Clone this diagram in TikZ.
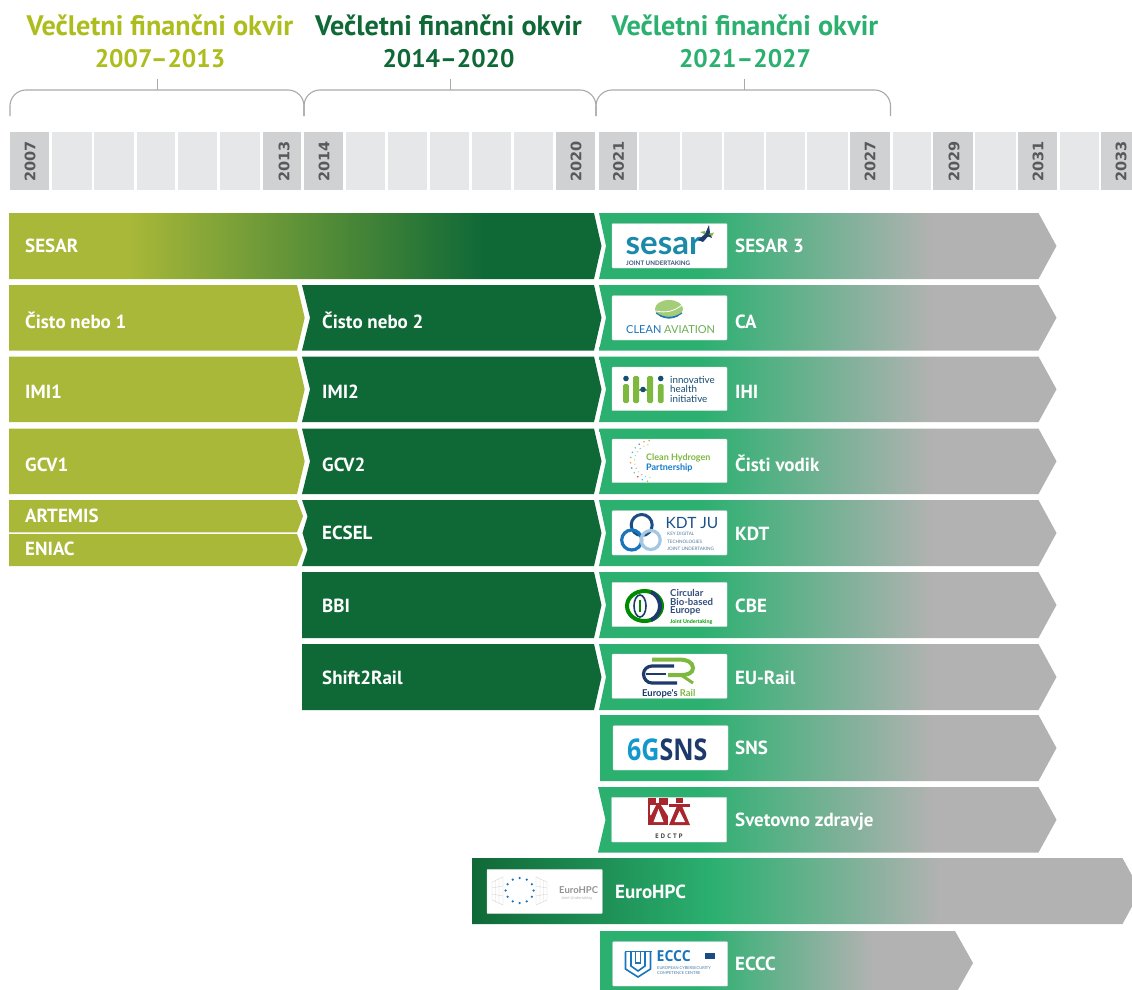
\documentclass[tikz,border=0pt]{standalone}
\usepackage{fontspec}
\setmainfont{PT Sans}
\newfontfamily\yearfont{DejaVu Sans}
\newfontfamily\logofont{Lato}
\newfontfamily\openfont{Open Sans}
\definecolor{olivebar}{HTML}{A9B838}
\definecolor{olivetxt}{HTML}{AEBD1E}
\definecolor{darkbar}{HTML}{0F6937}
\definecolor{midbar}{HTML}{2BB070}
\definecolor{graybar}{HTML}{B2B2B2}
\definecolor{celllight}{HTML}{E6E7E8}
\definecolor{celldark}{HTML}{D0D1D3}
\definecolor{yeartxt}{HTML}{58595B}
\definecolor{bracegray}{HTML}{A8A9AB}
\definecolor{lblue}{HTML}{1B75BB}
\definecolor{lnavy}{HTML}{1D3A6B}
\definecolor{lgreen}{HTML}{7DB83F}
\definecolor{lred}{HTML}{A8262D}
\definecolor{lteal}{HTML}{1A8AA8}
\pgfdeclarehorizontalshading{sesarshade}{100bp}{color(0bp)=(olivebar); color(35bp)=(olivebar); color(65bp)=(darkbar); color(100bp)=(darkbar)}
\pgfdeclarehorizontalshading{rowshade}{100bp}{color(0bp)=(midbar); color(36bp)=(midbar); color(61.5bp)=(graybar); color(100bp)=(graybar)}
\pgfdeclarehorizontalshading{eccshade}{100bp}{color(0bp)=(midbar); color(38.4bp)=(midbar); color(61.6bp)=(graybar); color(100bp)=(graybar)}
\pgfdeclarehorizontalshading{hpcshade}{100bp}{color(0bp)=(darkbar); color(25bp)=(darkbar); color(43bp)=(midbar); color(60bp)=(graybar); color(100bp)=(graybar)}
\tikzset{
  rowlabel/.style={anchor=base west,inner sep=0pt,yshift=-0.7pt,text=white,font=\bfseries\fontsize{19}{19}\selectfont},
  titlelabel/.style={anchor=base,inner sep=0pt,font=\bfseries\fontsize{28.2}{28}\selectfont},
  titleyears/.style={anchor=base,inner sep=0pt,font=\bfseries\fontsize{25.4}{26}\selectfont},
  yearlabel/.style={rotate=90,anchor=west,inner sep=0pt,text=yeartxt,font=\yearfont\bfseries\fontsize{14.5}{14.5}\selectfont},
  bracket/.style={draw=bracegray,line width=1.1pt},
  logobox/.style={fill=white,draw=white!85!black,line width=0.3pt,rounded corners=0.8pt},
  oliveshape/.style={fill=olivebar},
  darkshape/.style={fill=darkbar},
  rowshape/.style={shading=rowshade,shading angle=0},
  lg/.style={anchor=base west,inner sep=0pt},
}
% style, top, bottom, left x, notch depth, corner x, tip x
\newcommand{\chev}[7]{\path[#1] (#4,#2) -- (#6,#2) -- (#7,{(#2+#3)/2}) -- (#6,#3) -- (#4,#3) -- ({#4+#5},{(#2+#3)/2}) -- cycle;}
\newcommand{\logosize}[1]{\fontsize{#1}{#1}\selectfont}
\begin{document}
\begin{tikzpicture}[x=1pt,y=-1pt]
\useasboundingbox (0,0) rectangle (1132,990);
% titles
\node[titlelabel,text=olivetxt] (t1a) at (160,36) {Večletni finančni okvir};
\node[titleyears,text=olivetxt] (t1b) at (160,67) {2007–2013};
\node[titlelabel,text=darkbar] (t2a) at (448.5,36) {Večletni finančni okvir};
\node[titleyears,text=darkbar] (t2b) at (448.5,67) {2014–2020};
\node[titlelabel,text=midbar] (t3a) at (745,36) {Večletni finančni okvir};
\node[titleyears,text=midbar] (t3b) at (745,67) {2021–2027};
% brackets
\foreach \xa/\xb/\xm in {10/304/157,304/596/450,596/890.5/744}{
  \draw[bracket] (\xa,116) -- (\xa,106) arc[start angle=180,end angle=270,radius=16] -- ({\xb-16},90) arc[start angle=270,end angle=360,radius=16] -- (\xb,116);
  \draw[bracket,line width=0.8pt] (\xm,79) -- (\xm,90);
}
% timeline cells
\foreach \xa/\xb in {52/91.7,94/134.4,136.8/175,178/217.4,220/260,345.8/385,388/427,430/469,471.5/511,514/553,639.4/679.5,681.6/721.7,724/764,766/805,807.4/848,892.5/931,975/1016,1060/1099}
  \fill[celllight] (\xa,132) rectangle (\xb,190);
\foreach \xa/\xb in {10/49.4,262.5/301,304.4/342.7,556/595,598.6/636.7,850/889.7,933/973,1018/1057,1101/1132}
  \fill[celldark] (\xa,132) rectangle (\xb,190);
\node[yearlabel] (y2007) at (30,182) {2007};
\node[yearlabel] (y2013) at (284,182) {2013};
\node[yearlabel] (y2014) at (324,182) {2014};
\node[yearlabel] (y2020) at (576,182) {2020};
\node[yearlabel] (y2021) at (618.5,182) {2021};
\node[yearlabel] (y2027) at (870,182) {2027};
\node[yearlabel] (y2029) at (954,182) {2029};
\node[yearlabel] (y2031) at (1038,182) {2031};
\node[yearlabel] (y2033) at (1121,182) {2033};
% left bars
\chev{shading=sesarshade,shading angle=0}{213}{279}{9}{0}{594}{601.5}
\chev{oliveshape}{285}{350.5}{9}{0}{297}{304.7}
\chev{oliveshape}{356.5}{422}{9}{0}{297}{304.7}
\chev{oliveshape}{428.5}{494}{9}{0}{297}{304.7}
\chev{oliveshape}{500}{532.3}{9}{0}{297}{303}
\chev{oliveshape}{534}{566}{9}{0}{297}{303}
\chev{darkshape}{285}{350.5}{302}{8}{594}{601.5}
\chev{darkshape}{356.5}{422}{302}{8}{594}{601.5}
\chev{darkshape}{428.5}{494}{302}{8}{594}{601.5}
\path[darkshape] (302,500) -- (594,500) -- (601.5,533) -- (594,566) -- (302,566) -- (307.5,549.5) -- (302.5,533) -- (307.5,516.5) -- cycle;
\path[darkshape] (302,572) -- (594,572) -- (601.5,605) -- (594,638) -- (302,638) -- cycle;
\path[darkshape] (302,644) -- (594,644) -- (601.5,677) -- (594,710) -- (302,710) -- cycle;
% right bars
\chev{rowshape}{213}{279}{599}{7}{1038.5}{1056.5}
\chev{rowshape}{285}{350.5}{599}{7}{1038.5}{1056.5}
\chev{rowshape}{356.5}{422}{599}{7}{1038.5}{1056.5}
\chev{rowshape}{428.5}{494}{599}{7}{1038.5}{1056.5}
\chev{rowshape}{500}{566}{599}{7}{1038.5}{1056.5}
\chev{rowshape}{572}{638}{599}{7}{1038.5}{1056.5}
\chev{rowshape}{644}{710}{599}{7}{1038.5}{1056.5}
\chev{rowshape}{715}{781}{600}{0}{1038.5}{1056.5}
\chev{rowshape}{787}{852.5}{598}{7.5}{1038.5}{1056.5}
\chev{shading=hpcshade,shading angle=0}{858}{924}{472}{0}{1122.5}{1140.5}
\chev{shading=eccshade,shading angle=0}{931}{995}{600}{0}{955}{973}
% row labels
\node[rowlabel] (l1) at (25,252) {SESAR};
\node[rowlabel] (l2) at (25,327.5) {Čisto nebo 1};
\node[rowlabel] (l3) at (25,398) {IMI1};
\node[rowlabel] (l4) at (25,471) {GCV1};
\node[rowlabel] (l5) at (25,522) {ARTEMIS};
\node[rowlabel] (l6) at (25,555) {ENIAC};
\node[rowlabel] (m2) at (322,327.5) {Čisto nebo 2};
\node[rowlabel] (m3) at (322,398) {IMI2};
\node[rowlabel] (m4) at (322,471) {GCV2};
\node[rowlabel] (m5) at (322,539) {ECSEL};
\node[rowlabel] (m6) at (322,612) {BBI};
\node[rowlabel] (m7) at (322,684) {Shift2Rail};
\node[rowlabel] (r1) at (735,252) {SESAR 3};
\node[rowlabel] (r2) at (735,327.5) {CA};
\node[rowlabel] (r3) at (735,398) {IHI};
\node[rowlabel] (r4) at (735,471) {Čisti vodik};
\node[rowlabel] (r5) at (735,540) {KDT};
\node[rowlabel] (r6) at (735,612) {CBE};
\node[rowlabel] (r7) at (735,684) {EU-Rail};
\node[rowlabel] (r8) at (735,754) {SNS};
\node[rowlabel] (r9) at (735,826) {Svetovno zdravje};
\node[rowlabel] (r10) at (615,898) {EuroHPC};
\node[rowlabel] (r11) at (735,970) {ECCC};
% logo boxes
\foreach \ya/\yb in {223.5/268,295.7/340,367/410.7,439/482.7,510.7/555,582.3/626.7,654/698.3}
  \path[logobox] (612,\ya) rectangle (727,\yb);
\path[logobox] (613,725.7) rectangle (728,770);
\path[logobox] (611.5,797.3) rectangle (726.7,842);
\path[logobox] (487,869.3) rectangle (602.3,913.7);
\path[logobox] (612.7,941.7) rectangle (727.7,986);
% SESAR logo
\node[lg,text=lteal,font=\logofont\bfseries\logosize{33}] (sesarword) at (625.5,254.5) {sesar};
\node[lg,text=lnavy!85,font=\logofont\bfseries\logosize{6.2}] (sesarju) at (626,265.5) {JOINT UNDERTAKING};
\fill[lnavy] (698,240) -- (705,234) -- (709,225) -- (710,233) -- (712,238) -- (708,236.5) -- (703,242) -- cycle;
\fill[lgreen] (708.5,234) -- (714,232.5) -- (712,236) -- cycle;
\fill[lgreen] (700,232) -- (705,231) -- (705,234.5) -- cycle;
% Clean Aviation logo
\fill[lgreen!70] (669,309) ellipse[x radius=14,y radius=9];
\draw[white,line width=0.8pt] (656,311) to[bend right=25] (682,305);
\draw[lblue,line width=1.1pt] (656,313) to[bend right=35] (682,313);
\draw[lblue,line width=0.8pt] (660,316) to[bend right=25] (678,316);
\node[lg,font=\logofont\logosize{11}] (caword) at (626,333.5) {\textcolor{lblue}{CLEAN} \textcolor{lgreen!85!lblue}{AVIATION}};
% IHI logo
\foreach \xx in {626,660.7}{
  \fill[lnavy!70!teal] (\xx,378.5) circle[radius=2.8];
  \fill[lgreen,rounded corners=1.5pt] ({\xx-2.8},384) rectangle ({\xx+2.8},403);
}
\fill[lgreen,rounded corners=1.5pt] (633,376) rectangle (639,403);
\fill[lgreen,rounded corners=1.5pt] (647,376) rectangle (653,403);
\fill[lgreen] (639,388.5) rectangle (647,390.5);
\fill[lnavy!70!teal] (643,389.5) circle[radius=2.8];
\node[lg,text=lnavy!75!teal,font=\logofont\logosize{9.8}] (ihi1) at (670,383) {innovative};
\node[lg,text=lnavy!75!teal,font=\logofont\logosize{9.8}] (ihi2) at (670,392.5) {health};
\node[lg,text=lnavy!75!teal,font=\logofont\logosize{9.8}] (ihi3) at (670,402) {initiative};
% Clean Hydrogen logo
\foreach \a/\c in {95/lgreen,110/orange,125/lblue,140/lgreen,155/cyan,170/lgreen,185/orange,200/lblue,215/lgreen,230/lred,245/cyan,260/lgreen}{
  \fill[\c!80] ({651+20.5*cos(\a)},{461-20.5*sin(\a)}) circle[radius=0.9];
  \fill[\c!55] ({651+16.5*cos(\a+6)},{461-16.5*sin(\a+6)}) circle[radius=0.7];
}
\node[lg,text=lgreen,font=\logofont\bfseries\logosize{9}] (h2a) at (646,460) {Clean Hydrogen};
\node[lg,text=cyan!60!blue,font=\logofont\bfseries\logosize{9}] (h2b) at (646,470) {Partnership};
% KDT logo
\draw[lnavy!70!lblue,line width=3pt] (641.7,525) circle[radius=10.5];
\draw[lblue,line width=3.2pt] (631.7,540) circle[radius=10];
\draw[lblue!40,line width=3.2pt] (650.7,540) circle[radius=9.5];
\node[lg,text=lnavy!60!lblue,font=\logofont\logosize{15.5}] (kdtname) at (665.5,528) {KDT JU};
\node[lg,text=lblue!50!gray,font=\logofont\logosize{4.6}] (kdt1) at (667,535.5) {KEY DIGITAL};
\node[lg,text=lblue!50!gray,font=\logofont\logosize{4.6}] (kdt2) at (667,543) {TECHNOLOGIES};
\node[lg,text=lblue!50!gray,font=\logofont\logosize{4.6}] (kdt3) at (667,550) {JOINT UNDERTAKING};
% CBE logo
\draw[green!55!black,line width=4pt] (644.5,606) ellipse[x radius=17.5,y radius=15];
\draw[lnavy,line width=4pt] (651,592) arc[start angle=-65,end angle=65,radius=15.5];
\draw[lnavy,line width=1.6pt] (640,606) ellipse[x radius=6,y radius=11];
\draw[green!55!black,line width=1.4pt] (640,612) -- (640,600);
\node[lg,text=lnavy!90!white,font=\logofont\bfseries\logosize{9.6}] (cbe1) at (670,596) {Circular};
\node[lg,text=lnavy!90!white,font=\logofont\bfseries\logosize{9.6}] (cbe2) at (670,605) {Bio-based};
\node[lg,text=lnavy!90!white,font=\logofont\bfseries\logosize{9.6}] (cbe3) at (670,613.5) {Europe};
\node[lg,text=green!60!black,font=\logofont\bfseries\logosize{5.3}] (cbe4) at (670,623) {Joint Undertaking};
% Europe's Rail logo
\draw[lgreen,line width=4pt] (652,659.5) -- (680,659.5) to[out=0,in=90] (693,668) to[out=-90,in=0] (682,675) -- (668,675);
\draw[lgreen,line width=3pt] (681,675) -- (693,683);
\draw[lnavy,line width=3.2pt] (674,666) -- (652,666) to[out=180,in=90] (643.5,674) to[out=-90,in=180] (652,683) -- (677,683);
\draw[lnavy,line width=2.6pt] (646,674) -- (666,674);
\node[lg,font=\logofont\bfseries\logosize{9.4}] (erword) at (642,696) {\textcolor{lnavy}{Europe's} \textcolor{lgreen}{Rail}};
% 6G SNS logo
\node[lg,font=\openfont\bfseries\logosize{25}] (sns) at (627,760) {\scalebox{1}[1.2]{\textcolor{lblue!75!cyan}{6G}\textcolor{lnavy}{SNS}}};
% EDCTP logo
\fill[lred] (648,798) rectangle (668,825);
\fill[white] (658.5,809) -- (653.5,822) -- (663.5,822) -- cycle;
\fill[white] (650,805) -- (656,805) -- (651,815) -- (650,815) -- cycle;
\fill[white] (661,805) -- (668,805) -- (668,816) -- cycle;
\fill[white] (656,798) rectangle (659,803);
\fill[lred] (676,798) rectangle (683,803);
\fill[lred] (669,803.5) rectangle (690,806.5);
\fill[lred] (677,806) -- (669,825) -- (690,825) -- (682,806) -- cycle;
\fill[white] (679.5,811) -- (674.5,822) -- (685,822) -- cycle;
\node[anchor=base,inner sep=0pt,text=black!75,font=\logosize{6.5}\bfseries] (edctp) at (669,838) {E\,\,D\,\,C\,\,T\,\,P};
% EuroHPC logo
\foreach \a in {0,30,...,330}
  \fill[lblue] ({519.7+14*cos(\a)},{890.5+12.5*sin(\a)}) circle[radius=1.25];
\begin{scope}[draw=gray!32,line width=0.4pt]
  \draw (492,882) -- (503,877) -- (503,905) -- (492,900) -- cycle;
  \draw (495.5,880.5) -- (495.5,901.5) (499,879) -- (499,903) (492,888) -- (503,886) (492,894) -- (503,896);
  \draw (547,882) -- (536,877) -- (536,905) -- (547,900) -- cycle;
  \draw (543.5,880.5) -- (543.5,901.5) (540,879) -- (540,903) (547,888) -- (536,886) (547,894) -- (536,896);
\end{scope}
\node[lg,text=gray!85,font=\logofont\bfseries\logosize{9.5}] (hpcword) at (559,893) {EuroHPC};
\node[lg,text=gray!55,font=\logofont\logosize{4}] (hpcju) at (561,899) {Joint Undertaking};
% ECCC logo
\draw[lblue,line width=1.6pt] (625.5,952) -- (625.5,969) -- (638,977) -- (650.5,969) -- (650.5,952);
\draw[lblue,line width=1.6pt] (631,952) -- (631,966) -- (638,971) -- (645,966) -- (645,952);
\draw[lblue,line width=1.4pt] (635.5,952) -- (635.5,963) -- (640.5,963) -- (640.5,952);
\fill[lblue] (624.5,950.5) rectangle (651.5,952);
\node[lg,text=lblue,font=\openfont\bfseries\logosize{14}] (ecccword) at (656.5,961.5) {\scalebox{1}[1.08]{ECCC}};
\fill[lnavy!70!lblue] (704.7,952.7) rectangle (715.3,959.3);
\node[lg,text=lblue!60!gray,font=\logofont\logosize{4}] (eccc1) at (657,969) {EUROPEAN CYBERSECURITY};
\node[lg,text=lblue!60!gray,font=\logofont\logosize{4}] (eccc2) at (657,974) {COMPETENCE CENTRE};
\end{tikzpicture}
\end{document}
